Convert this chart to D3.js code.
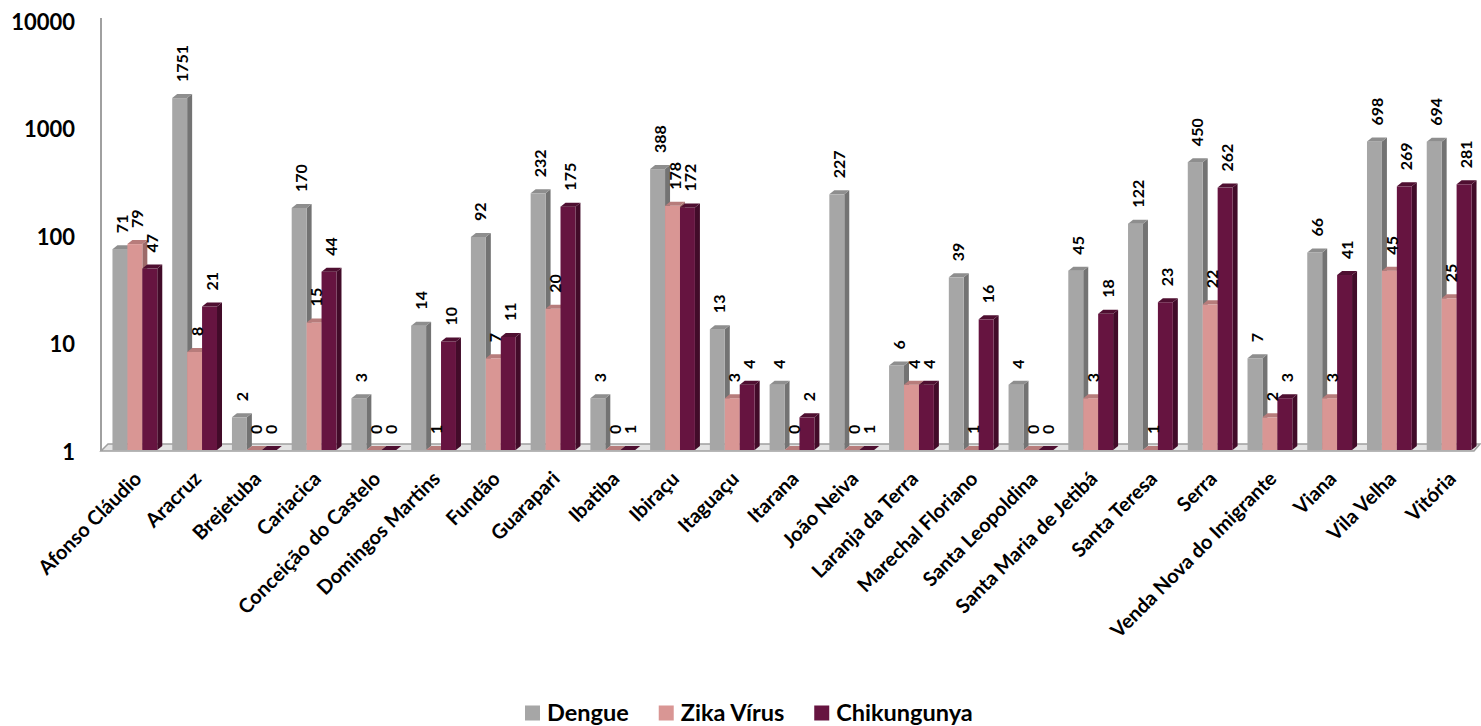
<!DOCTYPE html>
<html>
<head>
<meta charset="utf-8">
<script src="https://cdn.jsdelivr.net/npm/d3@7"></script>
<style>
  body { margin: 0; background: #fff; }
  svg { font-family: Lato, "Open Sans", sans-serif; font-weight: bold; }
</style>
</head>
<body>
<svg width="1481" height="726"></svg>
<script>
const categories = ["Afonso Cláudio", "Aracruz", "Brejetuba", "Cariacica", "Conceição do Castelo",
  "Domingos Martins", "Fundão", "Guarapari", "Ibatiba", "Ibiraçu", "Itaguaçu", "Itarana",
  "João Neiva", "Laranja da Terra", "Marechal Floriano", "Santa Leopoldina",
  "Santa Maria de Jetibá", "Santa Teresa", "Serra", "Venda Nova do Imigrante",
  "Viana", "Vila Velha", "Vitória"];
const dengue =      [71, 1751, 2, 170, 3, 14, 92, 232, 3, 388, 13, 4, 227, 6, 39, 4, 45, 122, 450, 7, 66, 698, 694];
const zika =        [79, 8, 0, 15, 0, 1, 7, 20, 0, 178, 3, 0, 0, 4, 1, 0, 3, 1, 22, 2, 3, 45, 25];
const chikungunya = [47, 21, 0, 44, 0, 10, 11, 175, 1, 172, 4, 2, 1, 4, 16, 0, 18, 23, 262, 3, 41, 269, 281];
const seriesNames = ["Dengue", "Zika Vírus", "Chikungunya"];
const yTicks = [1, 10, 100, 1000, 10000];

// front, top, side
const colors = {
  "Dengue": ["#a6a6a6", "#8e8e8e", "#737373"],
  "Zika Vírus": ["#d99694", "#b77c7b", "#9c6a69"],
  "Chikungunya": ["#661440", "#4f0f31", "#420b29"]
};

function main() {
  let svg = d3.select("svg");
  const base = 450, dx = 5, dy = -4;

  const series = [dengue, zika, chikungunya];
  const data = categories.map(function (c, i) {
    return { cat: c, values: seriesNames.map(function (s, j) { return { name: s, value: series[j][i] }; }) };
  });

  let xScale = d3.scaleBand().domain(categories).range([105, 1479]).paddingInner(0.25).paddingOuter(0.125);
  let xSub = d3.scaleBand().domain(seriesNames).range([0, xScale.bandwidth()]);
  let yScale = d3.scaleLog().domain([1, 10000]).range([base, 16]);
  let yLabel = d3.scaleLog().domain([1, 10000]).range([452, 22]);

  // floor and wall
  svg.append("polygon")
    .attr("points", [[101, base + 1], [1474, base + 1], [1480, base - 6], [108, base - 6]].join(" "))
    .attr("fill", "#e3e3e3")
    .attr("stroke", "#a0a0a0")
    .attr("stroke-width", 1.5);
  svg.append("line")
    .attr("x1", 101).attr("x2", 101)
    .attr("y1", 18).attr("y2", base + 1)
    .attr("stroke", "#a0a0a0")
    .attr("stroke-width", 2);

  // y axis labels
  let yAxis = svg.append("g")
    .attr("transform", "translate(81,0)")
    .call(d3.axisLeft(yLabel).tickValues(yTicks).tickFormat(d3.format("d")).tickSize(0).tickPadding(6));
  yAxis.select(".domain").remove();
  yAxis.selectAll("text")
    .attr("font-family", "Lato")
    .attr("font-weight", "bold")
    .attr("font-size", "22px")
    .attr("fill", "#000");

  // bars
  let groups = svg.selectAll(".grp")
    .data(data)
    .enter()
    .append("g")
    .attr("class", "grp")
    .attr("transform", function (d) { return "translate(" + xScale(d.cat) + ",0)"; });

  let bars = groups.selectAll(".bar")
    .data(function (d) { return d.values; })
    .enter()
    .append("g")
    .attr("class", "bar");

  const w = xSub.bandwidth();
  bars.each(function (d) {
    let g = d3.select(this);
    let x = xSub(d.name);
    let y = yScale(Math.max(d.value, 1));
    let c = colors[d.name];
    // side
    g.append("polygon")
      .attr("points", [[x + w, y], [x + w + dx, y + dy], [x + w + dx, base + dy], [x + w, base]].join(" "))
      .attr("fill", c[2]);
    // front
    g.append("rect")
      .attr("x", x).attr("y", y)
      .attr("width", w).attr("height", base - y)
      .attr("fill", c[0]);
    // top
    g.append("polygon")
      .attr("points", [[x, y], [x + dx, y + dy], [x + w + dx, y + dy], [x + w, y]].join(" "))
      .attr("fill", c[1]);
  });

  // value labels
  groups.selectAll(".val")
    .data(function (d) { return d.values; })
    .enter()
    .append("text")
    .attr("class", "val")
    .attr("transform", function (d) {
      let cx = xSub(d.name) + w / 2 + 2.5;
      let y = yScale(Math.max(d.value, 1)) - 16;
      return "translate(" + cx + "," + y + ") rotate(-90)";
    })
    .attr("dy", "0.35em")
    .attr("font-size", "16px")
    .attr("text-anchor", "start")
    .text(function (d) { return d.value; });

  // category labels
  svg.selectAll(".cat")
    .data(categories)
    .enter()
    .append("text")
    .attr("class", "cat")
    .attr("transform", function (d) {
      let cx = xScale(d) + xScale.bandwidth() / 2 + 8;
      return "translate(" + cx + "," + 480 + ") rotate(-45)";
    })
    .attr("text-anchor", "end")
    .attr("font-size", "20px")
    .text(function (d) { return d; });

  // legend
  let legend = svg.append("g").attr("transform", "translate(525,713)");
  let lx = 0;
  seriesNames.forEach(function (s) {
    legend.append("rect")
      .attr("x", lx).attr("y", -7.5)
      .attr("width", 15).attr("height", 15)
      .attr("fill", colors[s][0]);
    let t = legend.append("text")
      .attr("x", lx + 22).attr("y", 0)
      .attr("dy", "0.35em")
      .attr("font-size", "23.5px")
      .text(s);
    lx += 22 + t.node().getComputedTextLength() + 30;
  });
}
main();
</script>
</body>
</html>
